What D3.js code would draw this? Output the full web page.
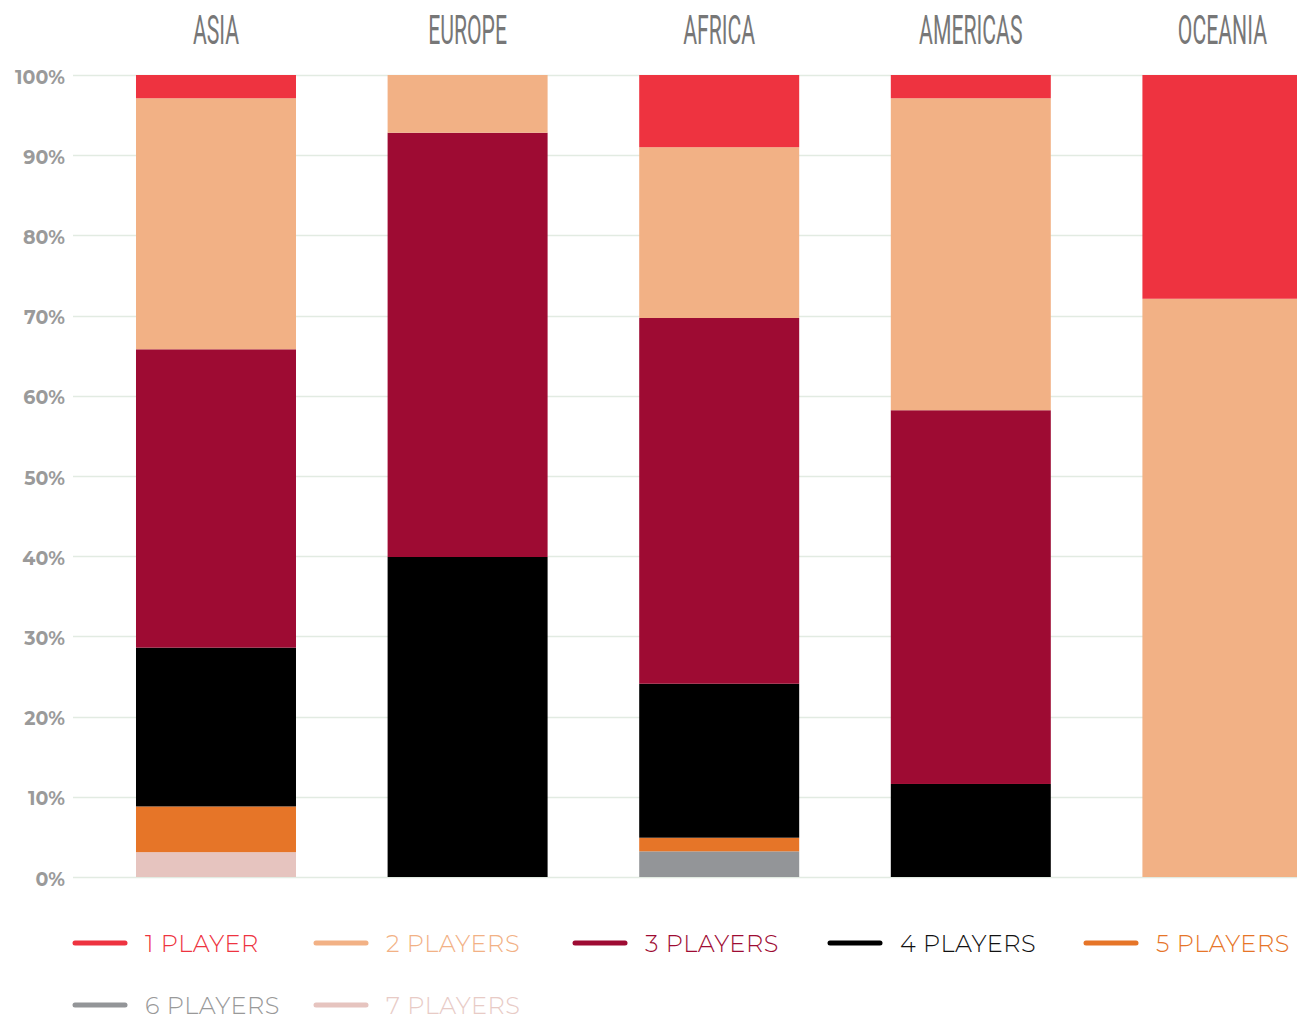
<!DOCTYPE html>
<html>
<head>
<meta charset="utf-8">
<script src="https://cdn.jsdelivr.net/npm/d3@7/dist/d3.min.js"></script>
<style>
  html, body { margin: 0; padding: 0; background: #fff; overflow: hidden; }
  svg { display: block; }
</style>
</head>
<body>
<svg id="chart" width="1297" height="1018"></svg>
<script>
// Regions along the x axis
const regions = ["ASIA", "EUROPE", "AFRICA", "AMERICAS", "OCEANIA"];

// Share of teams by player count, one array per series (percent, in region order)
const onePlayer    = [2.9, 0.0,  9.0,  2.9, 27.9];
const twoPlayers   = [31.3, 7.2, 21.3, 38.9, 72.1];
const threePlayers = [37.2, 52.9, 45.6, 46.6, 0.0];
const fourPlayers  = [19.8, 39.9, 19.2, 11.6, 0.0];
const fivePlayers  = [5.7, 0.0,  1.7,  0.0,  0.0];
const sixPlayers   = [0.0, 0.0,  3.2,  0.0,  0.0];
const sevenPlayers = [3.1, 0.0,  0.0,  0.0,  0.0];

const seriesNames  = ["1 PLAYER", "2 PLAYERS", "3 PLAYERS", "4 PLAYERS", "5 PLAYERS", "6 PLAYERS", "7 PLAYERS"];
const seriesColors = ["#ee3340", "#f2b185", "#9e0b33", "#000000", "#e67528", "#939598", "#e6c4bf"];
const legendTextColors = ["#ee3340", "#f2b185", "#9e0b33", "#111111", "#e67528", "#999999", "#e8cbc6"];
const yTicks = [0, 10, 20, 30, 40, 50, 60, 70, 80, 90, 100];

// Build rows for d3.stack; stacking from the bottom with 7 players first
const seriesValues = [onePlayer, twoPlayers, threePlayers, fourPlayers, fivePlayers, sixPlayers, sevenPlayers];
const rows = regions.map((r, i) => {
  const row = { region: r };
  seriesNames.forEach((s, k) => { row[s] = seriesValues[k][i]; });
  return row;
});
const stackOrder = seriesNames.slice().reverse();
const stacked = d3.stack().keys(stackOrder)(rows);

const svg = d3.select("#chart");

const x = d3.scaleBand()
  .domain(regions)
  .range([90.2, 1348.2])
  .paddingInner(0.3641)
  .paddingOuter(0.182);

const y = d3.scaleLinear().domain([0, 100]).range([877, 75]);

// Horizontal gridlines
svg.append("g")
  .selectAll("line")
  .data(yTicks)
  .join("line")
  .attr("x1", 73)
  .attr("x2", 1297)
  .attr("y1", d => Math.round(y(d)) + 0.5)
  .attr("y2", d => Math.round(y(d)) + 0.5)
  .attr("stroke", "#e2ebe2")
  .attr("stroke-width", 1.5);

// Y axis labels
const yAxis = d3.axisLeft(y).tickValues(yTicks).tickFormat(d => d + "%").tickSize(0).tickPadding(0);
const yg = svg.append("g").attr("transform", "translate(65,2)").call(yAxis);
yg.select(".domain").remove();
yg.selectAll("text")
  .attr("fill", "#9a9a9a")
  .style("font-family", "Montserrat, 'Open Sans', sans-serif")
  .style("font-weight", "700")
  .style("font-size", "19px");

// Stacked bars
svg.append("g")
  .selectAll("g")
  .data(stacked)
  .join("g")
  .attr("fill", d => seriesColors[seriesNames.indexOf(d.key)])
  .selectAll("rect")
  .data(d => d)
  .join("rect")
  .attr("x", d => x(d.data.region))
  .attr("width", x.bandwidth())
  .attr("y", d => y(d[1]))
  .attr("height", d => y(d[0]) - y(d[1]));

// Region titles in a condensed face
svg.append("g")
  .selectAll("text")
  .data(regions)
  .join("text")
  .attr("transform", d => `translate(${x(d) + x.bandwidth() / 2},44) scale(0.53,1)`)
  .attr("text-anchor", "middle")
  .attr("fill", "#777777")
  .style("font-family", "Roboto, sans-serif")
  .style("font-weight", "400")
  .style("font-size", "40px")
  .text(d => d);

// Legend
const legendCols = [73, 314, 573, 828, 1084];
const legendRows = [943, 1005];
const legend = svg.append("g")
  .selectAll("g")
  .data(seriesNames)
  .join("g")
  .attr("transform", (d, i) => `translate(${legendCols[i % 5]},${legendRows[Math.floor(i / 5)]})`);

legend.append("line")
  .attr("x1", 2).attr("x2", 52)
  .attr("y1", 0).attr("y2", 0)
  .attr("stroke", (d, i) => seriesColors[i])
  .attr("stroke-width", 5)
  .attr("stroke-linecap", "round");

legend.append("text")
  .attr("x", 72)
  .attr("y", 8.5)
  .attr("fill", (d, i) => legendTextColors[i])
  .style("font-family", "Montserrat, 'Open Sans', sans-serif")
  .style("font-weight", "300")
  .style("font-size", "24px")
  .style("letter-spacing", "0.55px")
  .text(d => d);
</script>
</body>
</html>
